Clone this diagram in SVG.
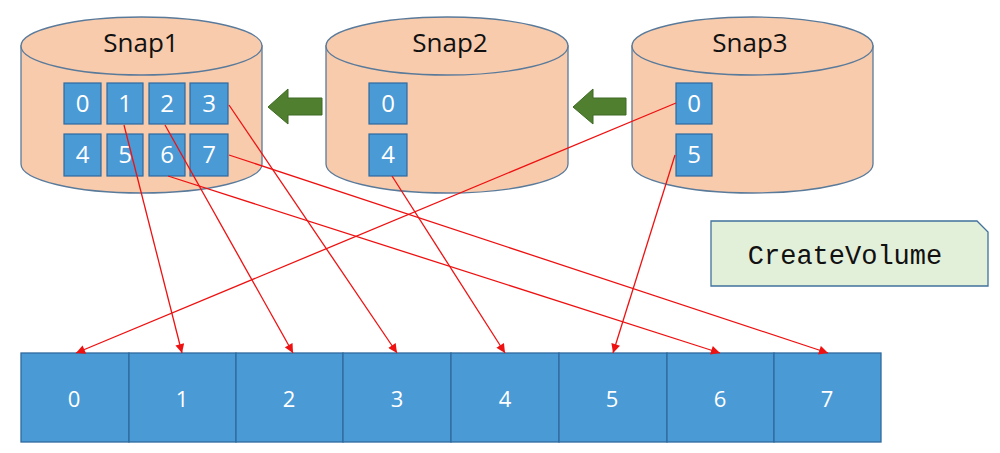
<svg xmlns="http://www.w3.org/2000/svg" width="1000" height="453" viewBox="0 0 1000 453">
<defs>
<style>
.cyl{fill:#f8cbad;stroke:#5a7a9a;stroke-width:1.3}
.blk{fill:#4a9ad6;stroke:#2f6a9e;stroke-width:1.2}
.cell{fill:#4a9ad6;stroke:#2f6a9e;stroke-width:1.3}
.lbl{font-family:"Open Sans","Noto Sans",sans-serif;font-size:26px;fill:#111;text-anchor:middle}
.num{font-family:"Open Sans","Noto Sans",sans-serif;font-size:24px;fill:#fff;text-anchor:middle}
.anum{font-family:"Open Sans","Noto Sans",sans-serif;font-size:22px;fill:#fff;text-anchor:middle}
.garrow{fill:#4f7f2f;stroke:#3f6a25;stroke-width:1}
.link{stroke:#ee1111;stroke-width:1.3;fill:none;marker-end:url(#ah)}
.mono{font-family:"Liberation Mono","Courier New",monospace;font-size:27px;fill:#111;text-anchor:middle}
</style>
<marker id="ah" viewBox="0 0 10 10" refX="10" refY="5" markerWidth="10" markerHeight="9" markerUnits="userSpaceOnUse" orient="auto">
<path d="M0,0 L10,5 L0,10 Z" fill="#ee1111"/>
</marker>
</defs>
<rect width="1000" height="453" fill="#fff"/>

<g id="snap1">
<path class="cyl" d="M21,46 L21,164 A120.5,29 0 0 0 262,164 L262,46 Z"/>
<ellipse class="cyl" cx="141.5" cy="46" rx="120.5" ry="29"/>
<text class="lbl" x="141" y="52">Snap1</text>
<rect class="blk" x="64" y="83" width="37" height="41"/>
<rect class="blk" x="107" y="83" width="36" height="41"/>
<rect class="blk" x="149" y="83" width="36" height="41"/>
<rect class="blk" x="190" y="83" width="38" height="41"/>
<rect class="blk" x="64" y="134" width="37" height="42"/>
<rect class="blk" x="107" y="134" width="36" height="42"/>
<rect class="blk" x="149" y="134" width="36" height="42"/>
<rect class="blk" x="190" y="134" width="38" height="42"/>
<text class="num" x="82.5" y="112">0</text>
<text class="num" x="125" y="112">1</text>
<text class="num" x="167" y="112">2</text>
<text class="num" x="209" y="112">3</text>
<text class="num" x="82.5" y="163">4</text>
<text class="num" x="125" y="163">5</text>
<text class="num" x="167" y="163">6</text>
<text class="num" x="209" y="163">7</text>
</g>

<g id="snap2">
<path class="cyl" d="M326,46 L326,164 A121,29 0 0 0 568,164 L568,46 Z"/>
<ellipse class="cyl" cx="447" cy="46" rx="121" ry="29"/>
<text class="lbl" x="450" y="52">Snap2</text>
<rect class="blk" x="369" y="83" width="38" height="41"/>
<rect class="blk" x="369" y="134" width="38" height="42"/>
<text class="num" x="388" y="112">0</text>
<text class="num" x="388" y="163">4</text>
</g>

<g id="snap3">
<path class="cyl" d="M632,46 L632,164 A120.5,29 0 0 0 873,164 L873,46 Z"/>
<ellipse class="cyl" cx="752.5" cy="46" rx="120.5" ry="29"/>
<text class="lbl" x="750" y="52">Snap3</text>
<rect class="blk" x="676" y="83" width="36" height="41"/>
<rect class="blk" x="676" y="134" width="36" height="42"/>
<text class="num" x="694" y="112">0</text>
<text class="num" x="694" y="163">5</text>
</g>

<g id="arrow12">
<polygon class="garrow" points="268,107 288,89 288,98 322,98 322,115 288,115 288,124"/>
</g>
<g id="arrow23">
<polygon class="garrow" points="573,107 593,89 593,98 626,98 626,115 593,115 593,124"/>
</g>

<g id="createvolume">
<path d="M711,221 L977,221 L988,232 L988,286 L711,286 Z" fill="#e2efd9" stroke="#41719c" stroke-width="1.3"/>
<text class="mono" x="845" y="264">CreateVolume</text>
</g>

<g id="volume">
<rect class="cell" x="21" y="353" width="108" height="89"/>
<rect class="cell" x="129" y="353" width="107" height="89"/>
<rect class="cell" x="236" y="353" width="107" height="89"/>
<rect class="cell" x="343" y="353" width="108" height="89"/>
<rect class="cell" x="451" y="353" width="108" height="89"/>
<rect class="cell" x="559" y="353" width="108" height="89"/>
<rect class="cell" x="667" y="353" width="107" height="89"/>
<rect class="cell" x="774" y="353" width="107" height="89"/>
<text class="anum" x="74" y="407">0</text>
<text class="anum" x="182" y="407">1</text>
<text class="anum" x="289" y="407">2</text>
<text class="anum" x="397" y="407">3</text>
<text class="anum" x="505" y="407">4</text>
<text class="anum" x="612" y="407">5</text>
<text class="anum" x="720" y="407">6</text>
<text class="anum" x="827" y="407">7</text>
</g>

<g id="connectors">
<line class="link" x1="676" y1="103" x2="76" y2="353"/>
<line class="link" x1="124" y1="125" x2="182" y2="353"/>
<line class="link" x1="165" y1="125" x2="293" y2="353"/>
<line class="link" x1="229" y1="105" x2="397" y2="353"/>
<line class="link" x1="392" y1="176" x2="505" y2="353"/>
<line class="link" x1="675" y1="155" x2="613" y2="353"/>
<line class="link" x1="168" y1="176" x2="720" y2="353"/>
<line class="link" x1="229" y1="155" x2="828" y2="353"/>
</g>
</svg>
